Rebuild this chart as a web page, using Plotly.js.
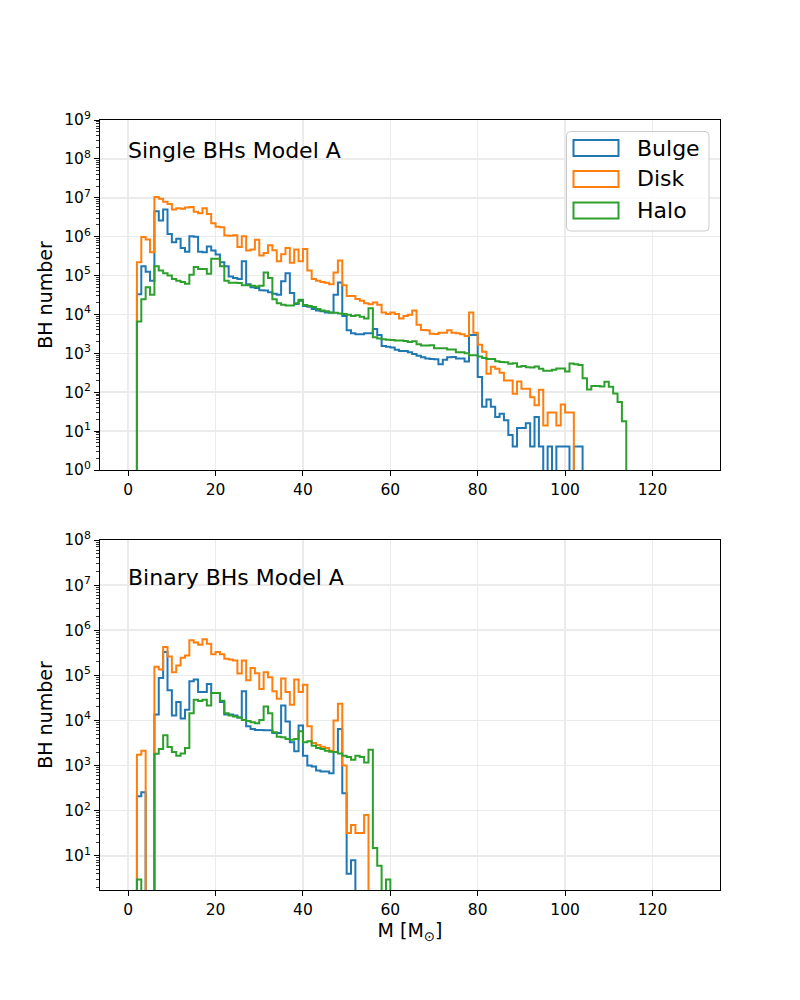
<!DOCTYPE html>
<html>
<head>
<meta charset="utf-8">
<script src="https://cdn.plot.ly/plotly-3.0.1.min.js"></script>
<style>html,body{margin:0;padding:0;background:#fff;}</style>
</head>
<body>
<div id="chart" style="width:800px;height:1000px;"></div>
<script>
// ---- data (counts per 1-Msun bin, first bin starts at binStart) ----
const binStart = 2;
const binWidth = 1;
const seriesNames = ["Bulge", "Disk", "Halo"];
const seriesColors = ["#1f77b4", "#ff7f0e", "#2ca02c"];
const panelTitles = ["Single BHs Model A", "Binary BHs Model A"];
const xTicks = [0, 20, 40, 60, 80, 100, 120];

const bulgeSingle = [33000, 174000, 126000, 74000, 4500000, 2600000, 5000000, 1170000, 720000, 890000,
  510000, 410000, 1020000, 1000000, 410000, 400000, 560000, 440000, 350000, 220000,
  174000, 95000, 87000, 81000, 235000, 60000, 50000, 48000, 42000, 41000,
  37000, 34000, 32000, 71000, 115000, 35500, 18600, 22400, 16600, 15800,
  13800, 12600, 12000, 11200, 11000, 32000, 66000, 9100, 3900, 3300,
  3100, 3100, 3300, 3300, 4200, 2950, 1550, 1480, 1410, 1230,
  1150, 1150, 1070, 955, 870, 790, 740, 710, 700, 525,
  680, 790, 810, 740, 740, 620, 2950, 2950, 245, 42,
  65, 42, 23, 28, 19, 8, 4, 12, 12, 16,
  4, 23, 4, 0, 4, 0, 4, 4, 4, 0,
  4, 4];
const diskSingle = [220000, 980000, 850000, 400000, 10500000, 9500000, 7900000, 6900000, 5000000, 5400000,
  5200000, 5600000, 5800000, 4400000, 4000000, 5400000, 3800000, 2200000, 1800000, 1750000,
  1070000, 1060000, 1080000, 540000, 1020000, 440000, 470000, 830000, 330000, 380000,
  600000, 450000, 235000, 355000, 510000, 215000, 470000, 235000, 480000, 135000,
  81000, 74000, 68000, 65000, 60000, 120000, 245000, 56000, 30000, 30000,
  25000, 22400, 19500, 18200, 20400, 17800, 11200, 10200, 11200, 10200,
  7900, 9100, 9800, 12600, 5400, 4000, 3900, 3200, 3150, 3400,
  3400, 3900, 3400, 3300, 3100, 2800, 11200, 3400, 1660, 1100,
  300, 450, 400, 316, 200, 200, 91, 190, 123, 123,
  74, 46, 115, 14, 30, 30, 14, 48, 30, 30];
const haloSingle = [6600, 24500, 50000, 32000, 174000, 135000, 115000, 100000, 81000, 74000,
  68000, 62000, 105000, 166000, 148000, 148000, 112000, 270000, 270000, 174000,
  74000, 65000, 65000, 64000, 56000, 56000, 55000, 52000, 55000, 120000,
  87000, 24500, 19500, 17800, 17000, 17000, 19500, 24000, 17400, 16600,
  15500, 13800, 12600, 12000, 11200, 11000, 10500, 10200, 9800, 9100,
  9500, 8700, 7900, 14500, 2600, 2400, 2300, 2240, 2190, 2140,
  2140, 2090, 1950, 2040, 1700, 1580, 1580, 1620, 1350, 1350,
  1350, 1260, 1260, 1070, 1070, 1000, 890, 890, 830, 760,
  720, 720, 630, 600, 590, 540, 560, 450, 470, 440,
  430, 460, 400, 355, 355, 380, 410, 410, 340, 550,
  525, 500, 230, 117, 145, 145, 140, 186, 138, 93,
  56, 18];

const bulgeBinary = [210, 257, 0, 0, 13500, 87100, 331000, 46800, 12900, 25700,
  11000, 17400, 74100, 81300, 42700, 42700, 64600, 40700, 40700, 25700,
  13500, 13500, 12900, 11700, 44700, 7410, 6460, 6170, 6170, 6100,
  6100, 5250, 5250, 21400, 9550, 3310, 2090, 7760, 1660, 1000,
  955, 776, 741, 741, 676, 2000, 6460, 245, 4, 8];
const diskBinary = [1740, 2140, 0, 0, 155000, 135000, 427000, 263000, 117000, 166000,
  245000, 275000, 603000, 537000, 479000, 631000, 501000, 295000, 331000, 295000,
  234000, 224000, 214000, 110000, 214000, 77600, 145000, 112000, 50100, 117000,
  91200, 44700, 30200, 85100, 42700, 22400, 81300, 42700, 61700, 7410,
  3160, 2880, 2630, 2450, 2140, 10000, 23400, 1000, 32, 48,
  32, 32, 80];
const haloBinary = [3, 0, 0, 0, 1820, 2340, 4680, 2570, 2000, 1660,
  1860, 2450, 14500, 28800, 26900, 28800, 21400, 40700, 40700, 27500,
  14500, 12900, 12300, 11700, 10200, 9770, 9120, 8710, 10200, 20400,
  14500, 5500, 4370, 4270, 3890, 3720, 3890, 5750, 3310, 3470,
  2750, 2450, 2340, 2140, 2040, 2000, 1860, 1660, 1550, 1350,
  1660, 1550, 1170, 2240, 15, 6, 0, 3];

// ---- drawing ----
const FLOOR = 1e-3; // empty bins drop below the visible log range
function stepTrace(counts, name, color, xa, ya) {
  const x = [binStart], y = [FLOOR];
  counts.forEach((c, i) => { x.push(binStart + i * binWidth); y.push(c > 0 ? c : FLOOR); });
  x.push(binStart + counts.length * binWidth); y.push(FLOOR);
  return {type: 'scatter', mode: 'lines', name: name, x: x, y: y, xaxis: xa, yaxis: ya,
          line: {shape: 'hv', color: color, width: 2}, showlegend: false, hoverinfo: 'skip'};
}
const singles = [bulgeSingle, diskSingle, haloSingle];
const binaries = [bulgeBinary, diskBinary, haloBinary];
const traces = [];
singles.forEach((s, i) => traces.push(stepTrace(s, seriesNames[i], seriesColors[i], 'x', 'y')));
binaries.forEach((s, i) => traces.push(stepTrace(s, seriesNames[i], seriesColors[i], 'x2', 'y2')));

function logTicks(lo, hi) {
  const v = [], t = [], m = [];
  for (let e = lo; e <= hi; e++) { v.push(Math.pow(10, e)); t.push('10<sup>' + e + '</sup>'); }
  for (let e = lo - 1; e <= hi; e++) for (let k = 2; k <= 9; k++) m.push(k * Math.pow(10, e));
  return {v, t, m};
}
const t1 = logTicks(0, 9), t2 = logTicks(1, 8);

const gridc = '#ebebeb';
const TF = 15.5;
const xBase = {
  range: [-6.45, 135.45], tickvals: xTicks, ticks: 'outside', ticklen: 5, tickwidth: 1, tickcolor: 'black',
  showline: true, linecolor: 'black', linewidth: 1, mirror: true, showgrid: true, gridcolor: gridc,
  gridwidth: 1.5, zeroline: false, tickfont: {size: TF}, automargin: false
};
const yBase = {
  type: 'log', ticks: 'outside', ticklen: 5, tickwidth: 1, tickcolor: 'black',
  showline: true, linecolor: 'black', linewidth: 1, mirror: true, showgrid: true, gridcolor: gridc,
  gridwidth: 1.5, zeroline: false, tickfont: {size: TF}, automargin: false,
  title: {text: 'BH number', font: {size: 19}, standoff: 6}
};
function minorFor(t) {
  return {tickmode: 'array', tickvals: t.m, ticks: 'outside', ticklen: 3, tickwidth: 0.8,
          tickcolor: 'black', showgrid: false};
}

// legend (drawn in paper coordinates)
const px = p => (p - 100) / 620, py = p => (890 - p) / 770;
const lx0 = px(566.5), lx1 = px(709), ly1 = py(131.5), ly0 = py(231), rx = 4 / 620, ry = 4 / 770;
const legendPath = `M${lx0 + rx},${ly1} L${lx1 - rx},${ly1} Q${lx1},${ly1} ${lx1},${ly1 - ry} ` +
  `L${lx1},${ly0 + ry} Q${lx1},${ly0} ${lx1 - rx},${ly0} L${lx0 + rx},${ly0} Q${lx0},${ly0} ${lx0},${ly0 + ry} ` +
  `L${lx0},${ly1 - ry} Q${lx0},${ly1} ${lx0 + rx},${ly1} Z`;
const shapes = [{type: 'path', xref: 'paper', yref: 'paper', path: legendPath,
  line: {color: '#cccccc', width: 1}, fillcolor: 'rgba(255,255,255,0.8)', layer: 'above'}];
const annotations = [];
const rowCenters = [148, 179, 210.5];
seriesNames.forEach((n, i) => {
  const c = rowCenters[i];
  shapes.push({type: 'rect', xref: 'paper', yref: 'paper', x0: px(573.5), x1: px(618.5),
    y0: py(c + 8), y1: py(c - 8), line: {color: seriesColors[i], width: 2}, fillcolor: 'rgba(0,0,0,0)', layer: 'above'});
  annotations.push({xref: 'paper', yref: 'paper', x: px(635), y: py(c), text: n, showarrow: false,
    xanchor: 'left', yanchor: 'middle', font: {size: 22, color: 'black'}});
});
annotations.push({xref: 'paper', yref: 'paper', x: px(126), y: py(151), text: panelTitles[0], showarrow: false,
  xanchor: 'left', yanchor: 'middle', font: {size: 22, color: 'black'}});
annotations.push({xref: 'paper', yref: 'paper', x: px(126), y: py(577.5), text: panelTitles[1], showarrow: false,
  xanchor: 'left', yanchor: 'middle', font: {size: 22, color: 'black'}});

const layout = {
  width: 800, height: 1000,
  margin: {l: 100, r: 80, t: 120, b: 110, pad: 0},
  paper_bgcolor: 'white', plot_bgcolor: 'white',
  font: {family: 'DejaVu Sans', color: 'black', size: 14},
  showlegend: false,
  xaxis: Object.assign({}, xBase, {domain: [0, 1], anchor: 'y'}),
  yaxis: Object.assign({}, yBase, {domain: [420 / 770, 1], anchor: 'x', range: [0, 9],
    tickvals: t1.v, ticktext: t1.t, minor: minorFor(t1)}),
  xaxis2: Object.assign({}, xBase, {domain: [0, 1], anchor: 'y2',
    title: {text: 'M [M<sub>⊙</sub>]', font: {size: 19}, standoff: 6}}),
  yaxis2: Object.assign({}, yBase, {domain: [0, 350 / 770], anchor: 'x2', range: [Math.log10(1.75), 8],
    tickvals: t2.v, ticktext: t2.t, minor: minorFor(t2)}),
  shapes: shapes,
  annotations: annotations
};
Plotly.newPlot('chart', traces, layout, {staticPlot: true, displayModeBar: false});
</script>
</body>
</html>
